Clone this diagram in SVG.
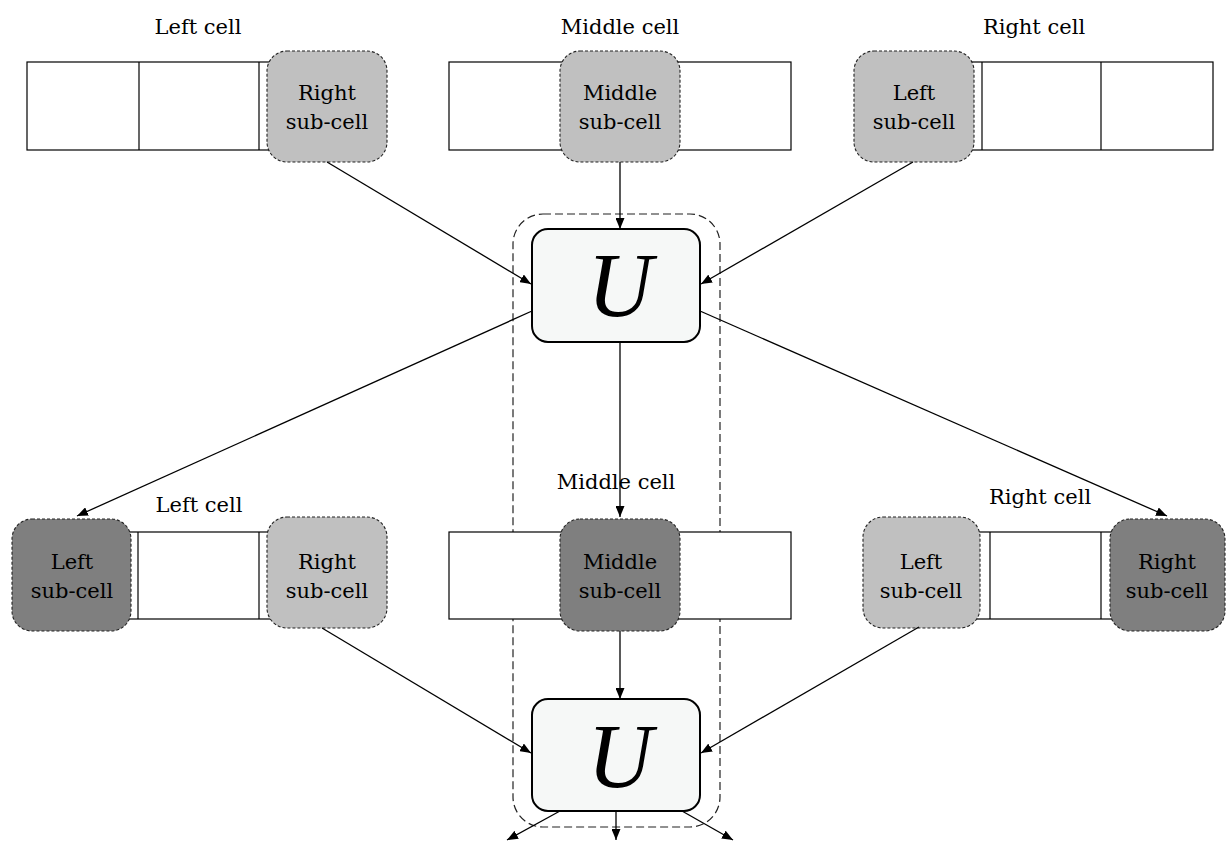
<svg xmlns="http://www.w3.org/2000/svg" width="1227" height="841" viewBox="0 0 1227 841">
  <defs>
    <marker id="arrow" markerUnits="userSpaceOnUse" markerWidth="12" markerHeight="9" refX="11" refY="4.5" orient="auto">
      <path d="M0,0 L11,4.5 L0,9 z" fill="#000"/>
    </marker>
    <style>
      .cell { fill: #fff; stroke: #000; stroke-width: 1.2; }
      .div { stroke: #000; stroke-width: 1.2; }
      .sub { stroke: #222; stroke-width: 1.1; stroke-dasharray: 3 2; }
      .light { fill: #c0c0c0; }
      .dark { fill: #7f7f7f; }
      .lbl { font-family: "DejaVu Serif", "Liberation Serif", serif; font-size: 21px; fill: #000; text-anchor: middle; }
      .ubox { fill: #f6f8f7; stroke: #000; stroke-width: 2; }
      .u { font-family: "Liberation Serif", "DejaVu Serif", serif; font-style: italic; font-size: 90px; fill: #000; text-anchor: middle; }
      .conn line { stroke: #000; stroke-width: 1.3; marker-end: url(#arrow); }
      .group { fill: none; stroke: #222; stroke-width: 1.2; stroke-dasharray: 8 4; }
    </style>
  </defs>
  <rect width="1227" height="841" fill="#fff"/>

  <!-- dashed grouping around the update column -->
  <rect class="group" x="513" y="214" width="207" height="613" rx="30"/>

  <!-- top row: cell strips -->
  <g id="top-left-cell">
    <text class="lbl" x="198" y="34">Left cell</text>
    <rect class="cell" x="27" y="62" width="350" height="88"/>
    <line class="div" x1="139" y1="62" x2="139" y2="150"/>
    <line class="div" x1="259" y1="62" x2="259" y2="150"/>
  </g>
  <g id="top-middle-cell">
    <text class="lbl" x="620" y="34">Middle cell</text>
    <rect class="cell" x="449" y="62" width="342" height="88"/>
  </g>
  <g id="top-right-cell">
    <text class="lbl" x="1034" y="34">Right cell</text>
    <rect class="cell" x="862" y="62" width="351" height="88"/>
    <line class="div" x1="982" y1="62" x2="982" y2="150"/>
    <line class="div" x1="1101" y1="62" x2="1101" y2="150"/>
  </g>

  <!-- bottom row: cell strips -->
  <g id="bottom-left-cell">
    <text class="lbl" x="199" y="512">Left cell</text>
    <rect class="cell" x="100" y="532" width="200" height="87"/>
    <line class="div" x1="138" y1="532" x2="138" y2="619"/>
    <line class="div" x1="259" y1="532" x2="259" y2="619"/>
  </g>
  <g id="bottom-middle-cell">
    <text class="lbl" x="616" y="489">Middle cell</text>
    <rect class="cell" x="449" y="532" width="342" height="87"/>
  </g>
  <g id="bottom-right-cell">
    <text class="lbl" x="1040" y="504">Right cell</text>
    <rect class="cell" x="950" y="532" width="190" height="87"/>
    <line class="div" x1="990" y1="532" x2="990" y2="619"/>
    <line class="div" x1="1101" y1="532" x2="1101" y2="619"/>
  </g>

  <!-- top row sub-cells -->
  <g id="top-right-subcell">
    <rect class="sub light" x="267" y="51" width="120" height="111" rx="20"/>
    <text class="lbl" x="327" y="100">Right</text>
    <text class="lbl" x="327" y="129">sub-cell</text>
  </g>
  <g id="top-middle-subcell">
    <rect class="sub light" x="560" y="51" width="120" height="111" rx="20"/>
    <text class="lbl" x="620" y="100">Middle</text>
    <text class="lbl" x="620" y="129">sub-cell</text>
  </g>
  <g id="top-left-subcell">
    <rect class="sub light" x="854" y="51" width="120" height="111" rx="20"/>
    <text class="lbl" x="914" y="100">Left</text>
    <text class="lbl" x="914" y="129">sub-cell</text>
  </g>

  <!-- bottom row sub-cells -->
  <g id="bottom-left-subcell">
    <rect class="sub dark" x="12" y="519" width="119" height="112" rx="20"/>
    <text class="lbl" x="72" y="569">Left</text>
    <text class="lbl" x="72" y="598">sub-cell</text>
  </g>
  <g id="bottom-right-subcell-a">
    <rect class="sub light" x="267" y="517" width="120" height="111" rx="20"/>
    <text class="lbl" x="327" y="569">Right</text>
    <text class="lbl" x="327" y="598">sub-cell</text>
  </g>
  <g id="bottom-middle-subcell">
    <rect class="sub dark" x="560" y="519" width="120" height="112" rx="20"/>
    <text class="lbl" x="620" y="569">Middle</text>
    <text class="lbl" x="620" y="598">sub-cell</text>
  </g>
  <g id="bottom-left-subcell-b">
    <rect class="sub light" x="863" y="517" width="117" height="111" rx="20"/>
    <text class="lbl" x="921" y="569">Left</text>
    <text class="lbl" x="921" y="598">sub-cell</text>
  </g>
  <g id="bottom-right-subcell">
    <rect class="sub dark" x="1110" y="519" width="115" height="112" rx="20"/>
    <text class="lbl" x="1167" y="569">Right</text>
    <text class="lbl" x="1167" y="598">sub-cell</text>
  </g>

  <!-- update operators -->
  <g id="update-top">
    <rect class="ubox" x="532" y="229" width="168" height="113" rx="16"/>
    <text class="u" x="620" y="316">U</text>
  </g>
  <g id="update-bottom">
    <rect class="ubox" x="532" y="699" width="168" height="112" rx="16"/>
    <text class="u" x="620" y="787">U</text>
  </g>

  <!-- connectors -->
  <g id="connectors" class="conn">
    <line x1="327" y1="162" x2="531" y2="284"/>
    <line x1="620" y1="162" x2="620" y2="229"/>
    <line x1="913" y1="162" x2="701" y2="284"/>
    <line x1="532" y1="311" x2="77" y2="516"/>
    <line x1="620" y1="342" x2="620" y2="517"/>
    <line x1="700" y1="311" x2="1167" y2="516"/>
    <line x1="322" y1="628" x2="531" y2="753"/>
    <line x1="620" y1="631" x2="620" y2="699"/>
    <line x1="919" y1="627" x2="701" y2="753"/>
    <line x1="560" y1="811" x2="507" y2="840"/>
    <line x1="616" y1="811" x2="616" y2="840"/>
    <line x1="682" y1="811" x2="733" y2="840"/>
  </g>
</svg>
